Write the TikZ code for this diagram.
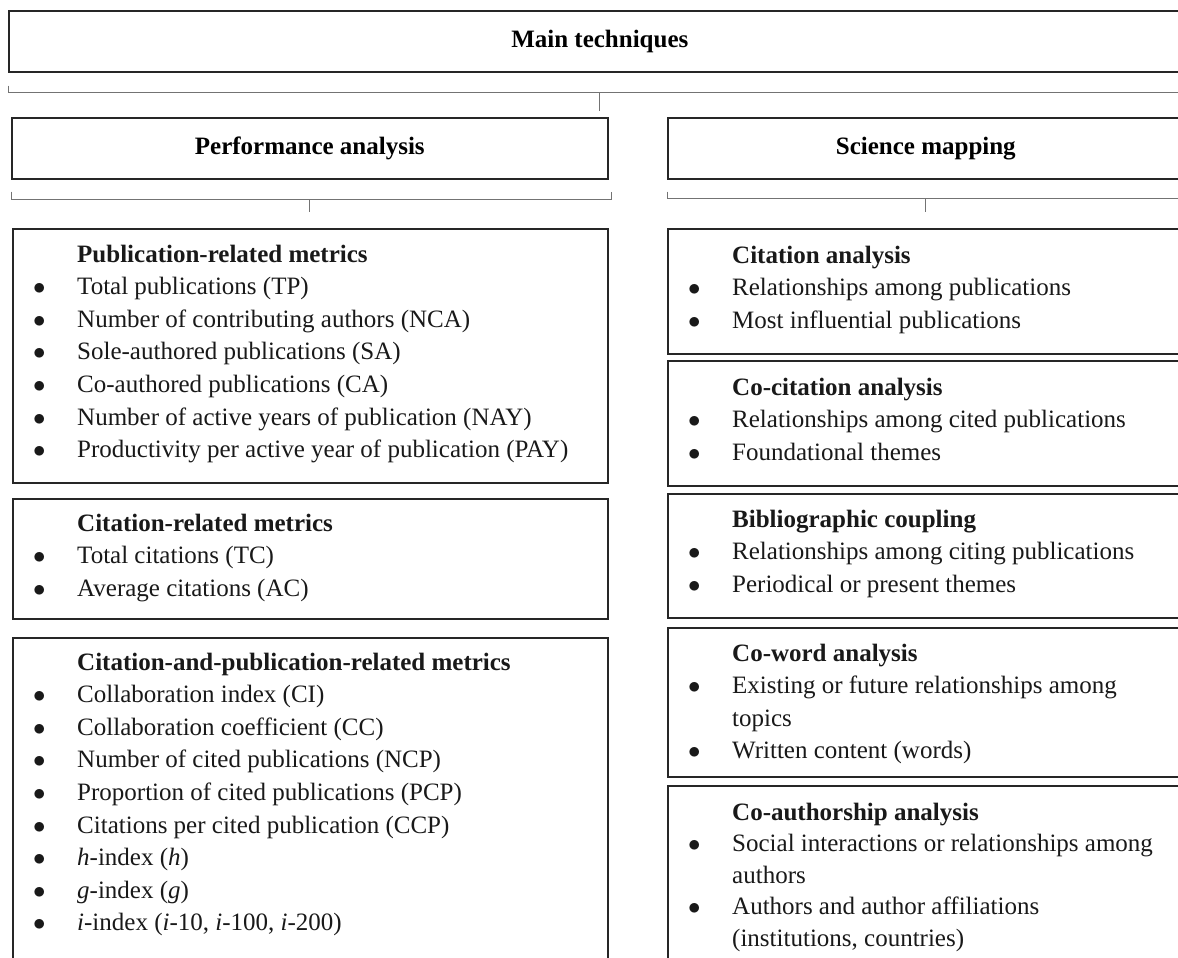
\documentclass[tikz,border=0pt]{standalone}
\usepackage{fontspec}
\setmainfont{Liberation Serif}
\usetikzlibrary{positioning}

\newcommand{\dotitem}{$\bullet$}

\begin{document}
\begin{tikzpicture}[
  x=1pt, y=-1pt,
  font=\fontsize{25}{32.6}\selectfont,
  frame/.style={
    draw=black!85,
    line width=1.6pt,
    anchor=north west,
    inner sep=0pt,
    minimum width=595pt
  },
  heading/.style={
    frame,
    minimum height=61pt,
    font=\fontsize{25}{30}\selectfont\bfseries
  },
  list/.style={
    anchor=base west,
    inner sep=0pt,
    text=black!90
  },
  brace/.style={draw=black!55, line width=1pt}
]

\path[use as bounding box, fill=white] (0,0) rectangle (1178,958);

% Main techniques
\node[heading, minimum width=1182pt] (main) at (8,10) {Main techniques};

% Two branches
\node[heading, minimum width=596pt] (perf) at (11,117) {Performance analysis};
\node[heading, minimum width=516pt] (sci) at (667,117) {Science mapping};

% Braces
\draw[brace] ([yshift=-13pt]main.south west) |- ([yshift=-20pt]main.south) -| ([yshift=-13pt]main.south east);
\draw[brace] ([yshift=-20pt]main.south) -- ([yshift=-38pt]main.south);

\draw[brace] ([yshift=-12pt]perf.south west) |- ([yshift=-20pt]perf.south) -| ([xshift=3pt, yshift=-12pt]perf.south east);
\draw[brace] ([yshift=-20pt]perf.south) -- ([yshift=-32pt]perf.south);

\draw[brace] ([yshift=-12pt]sci.south west) |- ([yshift=-19pt]sci.south) -| ([yshift=-12pt]sci.south east);
\draw[brace] ([yshift=-19pt]sci.south) -- ([yshift=-32pt]sci.south);

% Performance analysis boxes
\node[frame, minimum height=254pt] (pub) at (12,228) {};
\node[frame, minimum height=120pt, below right=14.4pt and 0pt of pub.south west] (cit) {};
\node[frame, minimum height=363pt, below right=17.4pt and 0pt of cit.south west] (citpub) {};

\node[list] (publist) at ([xshift=21pt, yshift=-34pt]pub.north west) {%
  \begin{tabular}[t]{@{}p{44pt}@{}l@{}}
    & \textbf{Publication-related metrics}\\
    \dotitem & Total publications (TP)\\
    \dotitem & Number of contributing authors (NCA)\\
    \dotitem & Sole-authored publications (SA)\\
    \dotitem & Co-authored publications (CA)\\
    \dotitem & Number of active years of publication (NAY)\\
    \dotitem & Productivity per active year of publication (PAY)
  \end{tabular}};

\node[list] (citlist) at ([xshift=21pt, yshift=-33pt]cit.north west) {%
  \begin{tabular}[t]{@{}p{44pt}@{}l@{}}
    & \textbf{Citation-related metrics}\\
    \dotitem & Total citations (TC)\\
    \dotitem & Average citations (AC)
  \end{tabular}};

\node[list] (citpublist) at ([xshift=21pt, yshift=-33pt]citpub.north west) {%
  \begin{tabular}[t]{@{}p{44pt}@{}l@{}}
    & \textbf{Citation-and-publication-related metrics}\\
    \dotitem & Collaboration index (CI)\\
    \dotitem & Collaboration coefficient (CC)\\
    \dotitem & Number of cited publications (NCP)\\
    \dotitem & Proportion of cited publications (PCP)\\
    \dotitem & Citations per cited publication (CCP)\\
    \dotitem & \textit{h}-index (\textit{h})\\
    \dotitem & \textit{g}-index (\textit{g})\\
    \dotitem & \textit{i}-index (\textit{i}-10, \textit{i}-100, \textit{i}-200)
  \end{tabular}};

% Science mapping boxes
\node[frame, minimum width=516pt, minimum height=125pt] (citan) at (667,228) {};
\node[frame, minimum width=516pt, minimum height=125pt, below right=5.4pt and 0pt of citan.south west] (cocit) {};
\node[frame, minimum width=516pt, minimum height=124pt, below right=6.4pt and 0pt of cocit.south west] (biblio) {};
\node[frame, minimum width=516pt, minimum height=149pt, below right=8.4pt and 0pt of biblio.south west] (coword) {};
\node[frame, minimum width=516pt, minimum height=215pt, below right=7.4pt and 0pt of coword.south west] (coauth) {};

\node[list] (citanlist) at ([xshift=21pt, yshift=-35pt]citan.north west) {%
  \begin{tabular}[t]{@{}p{44pt}@{}l@{}}
    & \textbf{Citation analysis}\\
    \dotitem & Relationships among publications\\
    \dotitem & Most influential publications
  \end{tabular}};

\node[list] (cocitlist) at ([xshift=21pt, yshift=-35pt]cocit.north west) {%
  \begin{tabular}[t]{@{}p{44pt}@{}l@{}}
    & \textbf{Co-citation analysis}\\
    \dotitem & Relationships among cited publications\\
    \dotitem & Foundational themes
  \end{tabular}};

\node[list] (bibliolist) at ([xshift=21pt, yshift=-34pt]biblio.north west) {%
  \begin{tabular}[t]{@{}p{44pt}@{}l@{}}
    & \textbf{Bibliographic coupling}\\
    \dotitem & Relationships among citing publications\\
    \dotitem & Periodical or present themes
  \end{tabular}};

\node[list] (cowordlist) at ([xshift=21pt, yshift=-34pt]coword.north west) {%
  \begin{tabular}[t]{@{}p{44pt}@{}l@{}}
    & \textbf{Co-word analysis}\\
    \dotitem & Existing or future relationships among\\
    & topics\\
    \dotitem & Written content (words)
  \end{tabular}};

\node[list, font=\fontsize{25}{31.5}\selectfont] (coauthlist) at ([xshift=21pt, yshift=-35pt]coauth.north west) {%
  \begin{tabular}[t]{@{}p{44pt}@{}l@{}}
    & \textbf{Co-authorship analysis}\\
    \dotitem & Social interactions or relationships among\\
    & authors\\
    \dotitem & Authors and author affiliations\\
    & (institutions, countries)
  \end{tabular}};

\end{tikzpicture}
\end{document}
